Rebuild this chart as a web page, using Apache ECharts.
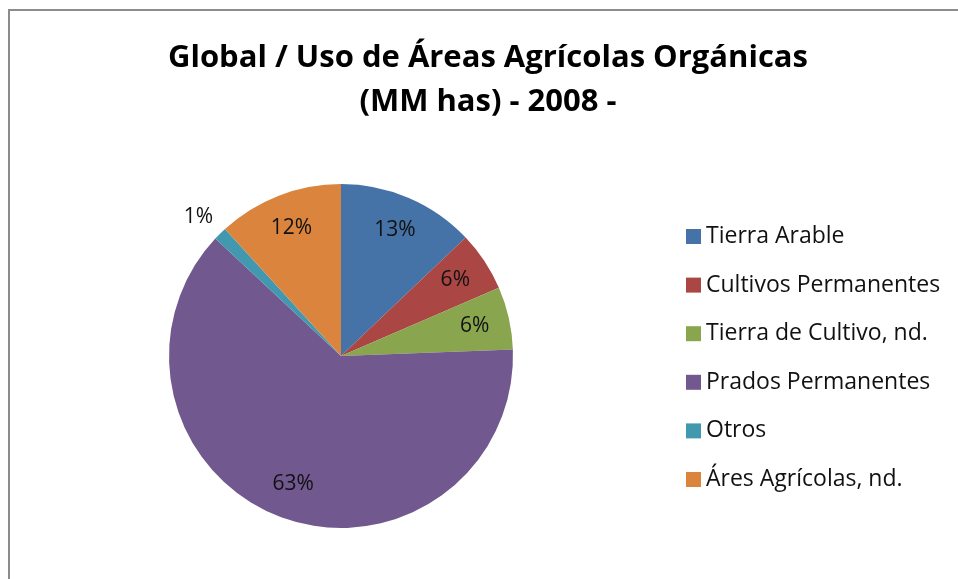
<!DOCTYPE html>
<html>
<head>
<meta charset="utf-8">
<script src="https://cdn.jsdelivr.net/npm/echarts@6/dist/echarts.min.js"></script>
<style>
  html, body { margin: 0; padding: 0; background: #fff; }
  #main { width: 958px; height: 579px; }
</style>
</head>
<body>
<div id="main"></div>
<script>
// superficie orgánica por uso, millones de hectáreas
var categorias = ['Tierra Arable', 'Cultivos Permanentes', 'Tierra de Cultivo, nd.', 'Prados Permanentes', 'Otros', 'Áres Agrícolas, nd.'];
var valores = [4.6, 2.0, 2.1, 22.3, 0.45, 4.2];
var colores = ['#4572A7', '#AA4643', '#89A54E', '#71588F', '#4198AF', '#DB843D'];

var myChart = echarts.init(document.getElementById('main'));

var datos = categorias.map(function (c, i) {
    return {name: c, value: valores[i], itemStyle: {color: colores[i]}};
});

var fuente = 'Open Sans';
function pct(p) { return Math.round(p.percent) + '%'; }

option = {
    animation: false,
    title: {
        text: 'Global / Uso de Áreas Agrícolas Orgánicas\n(MM has) - 2008 -',
        left: 488,
        top: 36,
        padding: 0,
        textAlign: 'center',
        textStyle: {
            fontFamily: fuente,
            fontSize: 31,
            fontWeight: 'bold',
            color: '#000',
            lineHeight: 44
        }
    },
    legend: {
        orient: 'vertical',
        left: 686,
        top: 225,
        padding: 0,
        itemWidth: 15,
        itemHeight: 15,
        itemGap: 25.6,
        icon: 'rect',
        textStyle: {fontFamily: fuente, fontSize: 23, color: '#111', lineHeight: 23},
        data: categorias
    },
    graphic: [{
        type: 'rect',
        shape: {x: 9, y: 10, width: 1000, height: 700},
        style: {fill: 'none', stroke: '#8c8c8c', lineWidth: 2},
        silent: true
    }],
    series: [
        {
            // sectores
            name: 'uso',
            type: 'pie',
            center: [341, 356],
            radius: [0, 172],
            startAngle: 90,
            clockwise: true,
            data: datos.map(function (d) {
                var o = Object.assign({}, d);
                if (d.name === 'Otros') {
                    // etiqueta fuera del sector, un poco más arriba
                    o.label = {
                        show: true,
                        position: 'outside',
                        lineHeight: 20,
                        formatter: function (p) { return pct(p) + '\n '; }
                    };
                    o.labelLine = {show: false, length: 10, length2: 0};
                } else {
                    o.label = {show: false};
                }
                return o;
            }),
            label: {
                fontFamily: fuente,
                fontSize: 21,
                color: '#111',
                distanceToLabelLine: 0,
                formatter: pct
            },
            emphasis: {disabled: true}
        },
        {
            // capa transparente para ubicar las etiquetas interiores
            name: 'etiquetas',
            type: 'pie',
            center: [341, 356],
            radius: [96, 172],
            startAngle: 90,
            clockwise: true,
            silent: true,
            legendHoverLink: false,
            data: datos.map(function (d) {
                return {
                    name: d.name,
                    value: d.value,
                    itemStyle: {color: 'rgba(0,0,0,0)'},
                    label: {show: d.name !== 'Otros'}
                };
            }),
            label: {
                position: 'inside',
                fontFamily: fuente,
                fontSize: 21,
                color: '#111',
                formatter: pct
            },
            emphasis: {disabled: true}
        }
    ]
};
myChart.setOption(option);
</script>
</body>
</html>
